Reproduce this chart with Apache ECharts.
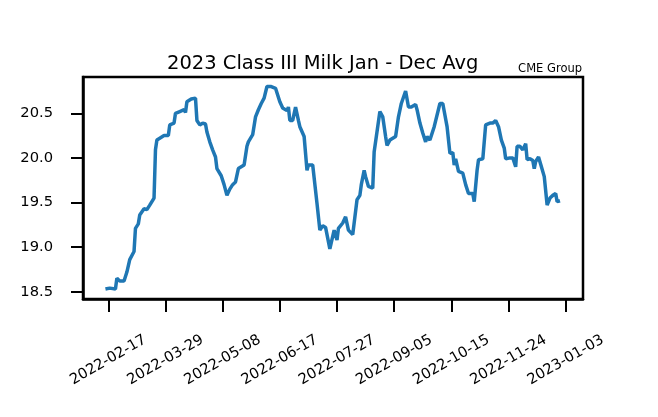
<!DOCTYPE html>
<html>
<head>
<meta charset="utf-8">
<script src="https://cdn.jsdelivr.net/npm/echarts@6/dist/echarts.min.js"></script>
<style>
	html, body { margin: 0; padding: 0; background: #fff; }
	#chart01 { width: 658px; height: 417px; }
</style>
</head>
<body>
<div id="chart01"></div>
<script>
// 날짜 (거래일 중 일부)
const dates = [
	'2022-02-15', '2022-02-18', '2022-02-22', '2022-02-23', '2022-02-25', '2022-02-28', '2022-03-02', '2022-03-04',
	'2022-03-07', '2022-03-08', '2022-03-10', '2022-03-11', '2022-03-14', '2022-03-16', '2022-03-18', '2022-03-21',
	'2022-03-22', '2022-03-23', '2022-03-25', '2022-03-28', '2022-03-31', '2022-04-01', '2022-04-04', '2022-04-05',
	'2022-04-06', '2022-04-08', '2022-04-11', '2022-04-12', '2022-04-13', '2022-04-16', '2022-04-19', '2022-04-20',
	'2022-04-22', '2022-04-24', '2022-04-26', '2022-04-27', '2022-04-29', '2022-05-01', '2022-05-03', '2022-05-04',
	'2022-05-05', '2022-05-07', '2022-05-09', '2022-05-11', '2022-05-13', '2022-05-15', '2022-05-17', '2022-05-19',
	'2022-05-21', '2022-05-23', '2022-05-25', '2022-05-26', '2022-05-29', '2022-05-31', '2022-06-02', '2022-06-04',
	'2022-06-06', '2022-06-08', '2022-06-11', '2022-06-14', '2022-06-17', '2022-06-19', '2022-06-22', '2022-06-23',
	'2022-06-24', '2022-06-26', '2022-06-28', '2022-06-30', '2022-07-01', '2022-07-04', '2022-07-06', '2022-07-07',
	'2022-07-10', '2022-07-13', '2022-07-15', '2022-07-17', '2022-07-19', '2022-07-22', '2022-07-25', '2022-07-27',
	'2022-07-28', '2022-07-31', '2022-08-02', '2022-08-04', '2022-08-07', '2022-08-10', '2022-08-12', '2022-08-13',
	'2022-08-15', '2022-08-16', '2022-08-18', '2022-08-21', '2022-08-22', '2022-08-23', '2022-08-26', '2022-08-28',
	'2022-08-30', '2022-08-31', '2022-09-02', '2022-09-06', '2022-09-08', '2022-09-10', '2022-09-13', '2022-09-15',
	'2022-09-17', '2022-09-20', '2022-09-21', '2022-09-23', '2022-09-25', '2022-09-27', '2022-09-28', '2022-09-30',
	'2022-10-03', '2022-10-04', '2022-10-07', '2022-10-09', '2022-10-12', '2022-10-14', '2022-10-16', '2022-10-17',
	'2022-10-18', '2022-10-20', '2022-10-23', '2022-10-25', '2022-10-27', '2022-10-30', '2022-10-31', '2022-11-02',
	'2022-11-03', '2022-11-06', '2022-11-08', '2022-11-11', '2022-11-13', '2022-11-15', '2022-11-17', '2022-11-19',
	'2022-11-21', '2022-11-22', '2022-11-25', '2022-11-27', '2022-11-29', '2022-11-30', '2022-12-02', '2022-12-04',
	'2022-12-06', '2022-12-07', '2022-12-09', '2022-12-11', '2022-12-12', '2022-12-13', '2022-12-15', '2022-12-17',
	'2022-12-19', '2022-12-21', '2022-12-23', '2022-12-25', '2022-12-27', '2022-12-28', '2022-12-30'
];

// Class III 평균가격
const avgPrices = [
	18.53, 18.54, 18.53, 18.65, 18.62, 18.62, 18.72, 18.86,
	18.95, 19.21, 19.26, 19.36, 19.43, 19.42, 19.47, 19.55,
	20.09, 20.20, 20.22, 20.25, 20.25, 20.37, 20.39, 20.50,
	20.49, 20.52, 20.54, 20.51, 20.63, 20.66, 20.67, 20.42,
	20.37, 20.39, 20.38, 20.29, 20.18, 20.09, 20.01, 19.88,
	19.87, 19.80, 19.70, 19.58, 19.65, 19.70, 19.73, 19.88,
	19.90, 19.92, 20.13, 20.18, 20.26, 20.46, 20.54, 20.61,
	20.67, 20.80, 20.80, 20.78, 20.63, 20.56, 20.53, 20.57,
	20.42, 20.42, 20.57, 20.42, 20.35, 20.24, 19.86, 19.92,
	19.92, 19.49, 19.19, 19.24, 19.22, 18.98, 19.19, 19.08,
	19.21, 19.27, 19.34, 19.19, 19.14, 19.53, 19.58, 19.70,
	19.86, 19.79, 19.68, 19.66, 20.07, 20.09, 20.52, 20.46,
	20.24, 20.14, 20.20, 20.24, 20.46, 20.61, 20.75, 20.57,
	20.57, 20.60, 20.54, 20.39, 20.28, 20.18, 20.24, 20.20,
	20.35, 20.37, 20.61, 20.61, 20.35, 20.05, 20.06, 19.92,
	19.99, 19.85, 19.83, 19.70, 19.60, 19.60, 19.51, 19.86,
	19.98, 19.99, 20.37, 20.39, 20.39, 20.42, 20.35, 20.20,
	20.11, 19.99, 20.00, 20.00, 19.90, 20.13, 20.13, 20.09,
	20.16, 19.98, 19.99, 19.97, 19.88, 19.96, 20.01, 19.90,
	19.79, 19.47, 19.55, 19.58, 19.60, 19.51, 19.52
];

// 눈금 라벨
const xTickDates = ['2022-02-17', '2022-03-29', '2022-05-08', '2022-06-17', '2022-07-27', '2022-09-05', '2022-10-15', '2022-11-24', '2023-01-03'];
const yTicks = [18.5, 19.0, 19.5, 20.0, 20.5];

const DAY = 86400000;
const toTs = (s) => {
	const p = s.split('-').map(Number);
	return Date.UTC(p[0], p[1] - 1, p[2]);
};
const fmtDate = (ts) => new Date(ts).toISOString().slice(0, 10);

const MILK_CHART = {
	el: document.getElementById('chart01'),
	init: function() {
		const chart = echarts.init(this.el, null, { renderer: 'canvas' });
		chart.setOption(this.buildOption());
		window.addEventListener('resize', chart.resize);
	},
	buildOption: function() {
		const font = 'DejaVu Sans';
		const base = toTs(xTickDates[0]);
		const xTicks = xTickDates.map(toTs);

		return {
			animation: false,
			backgroundColor: '#fff',
			title: [
				{
					text: '2023 Class III Milk Jan - Dec Avg',
					left: 167,
					top: 54,
					padding: 0,
					textStyle: { fontFamily: font, fontSize: 19.5, fontWeight: 'normal', color: '#000' }
				},
				{
					text: 'CME Group',
					right: 76,
					top: 63,
					padding: 0,
					textStyle: { fontFamily: font, fontSize: 11.5, fontWeight: 'normal', color: '#000' }
				}
			],
			// 상단/우측 테두리까지 박스로 표시
			grid: { left: 83, right: 75, top: 77, bottom: 118, show: true, borderColor: '#000', borderWidth: 2.5 },
			xAxis: {
				type: 'value',
				min: base - 17.7 * DAY,
				max: base + 332.1 * DAY,
				splitLine: { show: false },
				axisLine: { onZero: false, lineStyle: { color: '#000', width: 2.5 } },
				axisTick: { customValues: xTicks, length: 13, lineStyle: { color: '#000', width: 2 } },
				axisLabel: {
					customValues: xTicks,
					formatter: (v) => fmtDate(v),
					rotate: 30,
					align: 'center',
					verticalAlign: 'middle',
					margin: 61,
					fontFamily: font,
					fontSize: 14.7,
					color: '#000'
				}
			},
			yAxis: {
				type: 'value',
				min: 18.418,
				max: 20.907,
				splitLine: { show: false },
				axisLine: { show: true, lineStyle: { color: '#000', width: 2.5 } },
				axisTick: { show: true, customValues: yTicks, length: 12, lineStyle: { color: '#000', width: 2 } },
				axisLabel: {
					customValues: yTicks,
					formatter: (v) => v.toFixed(1),
					margin: 30,
					fontFamily: font,
					fontSize: 14.7,
					color: '#000'
				}
			},
			series: [
				{
					type: 'line',
					data: dates.map((d, i) => [toTs(d), avgPrices[i]]),
					showSymbol: false,
					lineStyle: { color: '#1f77b4', width: 3.5 },
					itemStyle: { color: '#1f77b4' }
				}
			]
		};
	}
};

MILK_CHART.init();
</script>
</body>
</html>
